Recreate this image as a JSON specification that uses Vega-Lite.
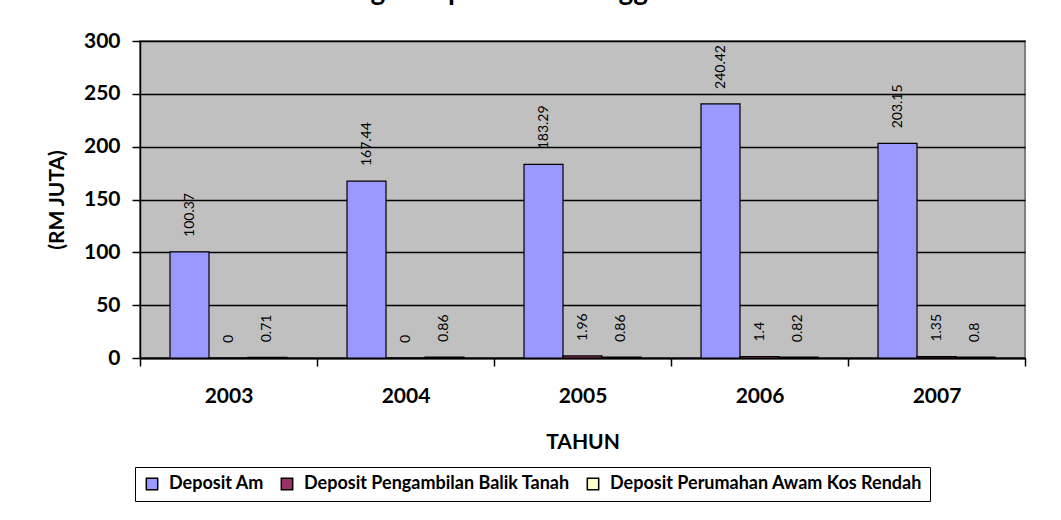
{
  "$schema": "https://vega.github.io/schema/vega-lite/v6.json",
  "width": 885,
  "height": 317,
  "autosize": "none",
  "padding": {"left": 140, "top": 41, "right": 36, "bottom": 162},
  "background": "white",
  "title": {"text": "Bagi tempoh 2003 Hingga 2007", "font": "Lato", "fontSize": 28, "fontWeight": "bold", "anchor": "middle", "frame": "bounds", "baseline": "alphabetic", "offset": 2, "color": "black"},
  "data": {"values": [
    {"tahun": "2003", "jenis": "Deposit Am", "nilai": 100.37},
    {"tahun": "2003", "jenis": "Deposit Pengambilan Balik Tanah", "nilai": 0},
    {"tahun": "2003", "jenis": "Deposit Perumahan Awam Kos Rendah", "nilai": 0.71},
    {"tahun": "2004", "jenis": "Deposit Am", "nilai": 167.44},
    {"tahun": "2004", "jenis": "Deposit Pengambilan Balik Tanah", "nilai": 0},
    {"tahun": "2004", "jenis": "Deposit Perumahan Awam Kos Rendah", "nilai": 0.86},
    {"tahun": "2005", "jenis": "Deposit Am", "nilai": 183.29},
    {"tahun": "2005", "jenis": "Deposit Pengambilan Balik Tanah", "nilai": 1.96},
    {"tahun": "2005", "jenis": "Deposit Perumahan Awam Kos Rendah", "nilai": 0.86},
    {"tahun": "2006", "jenis": "Deposit Am", "nilai": 240.42},
    {"tahun": "2006", "jenis": "Deposit Pengambilan Balik Tanah", "nilai": 1.4},
    {"tahun": "2006", "jenis": "Deposit Perumahan Awam Kos Rendah", "nilai": 0.82},
    {"tahun": "2007", "jenis": "Deposit Am", "nilai": 203.15},
    {"tahun": "2007", "jenis": "Deposit Pengambilan Balik Tanah", "nilai": 1.35},
    {"tahun": "2007", "jenis": "Deposit Perumahan Awam Kos Rendah", "nilai": 0.8}
  ]},
  "encoding": {
    "x": {
      "field": "tahun", "type": "nominal", "title": "TAHUN",
      "scale": {"paddingInner": 0, "paddingOuter": 0},
      "axis": {"labelAngle": 0, "labelFont": "Lato", "labelFontSize": 21, "labelFontWeight": "bold", "labelColor": "black", "labelPadding": 19,
               "tickBand": "extent", "tickSize": 8, "tickColor": "black", "tickWidth": 1.5, "domainColor": "black", "domainWidth": 2,
               "titleFont": "Lato", "titleFontSize": 21, "titleFontWeight": "bold", "titleColor": "black", "titlePadding": 25}
    },
    "xOffset": {"field": "jenis", "type": "nominal", "sort": ["Deposit Am", "Deposit Pengambilan Balik Tanah", "Deposit Perumahan Awam Kos Rendah"], "scale": {"paddingInner": 0, "paddingOuter": 0.77}},
    "y": {
      "field": "nilai", "type": "quantitative", "title": "(RM JUTA)",
      "scale": {"domain": [0, 300], "nice": false},
      "axis": {"values": [0, 50, 100, 150, 200, 250, 300], "labelFont": "Lato", "labelFontSize": 21, "labelFontWeight": "bold", "labelColor": "black", "labelPadding": 12,
               "tickSize": 8, "tickColor": "black", "tickWidth": 1.5, "domainColor": "black", "domainWidth": 1.5,
               "grid": true, "gridColor": "black", "gridWidth": 1.5,
               "titleFont": "Lato", "titleFontSize": 21, "titleFontWeight": "bold", "titleColor": "black", "titlePadding": 16}
    }
  },
  "layer": [
    {
      "mark": {"type": "bar", "stroke": "black", "strokeWidth": 1.2},
      "encoding": {
        "color": {
          "field": "jenis", "type": "nominal",
          "scale": {"domain": ["Deposit Am", "Deposit Pengambilan Balik Tanah", "Deposit Perumahan Awam Kos Rendah"], "range": ["#9999FF", "#993366", "#FFFFCC"]},
          "legend": {"title": null, "orient": "none", "legendX": -5, "legendY": 426, "direction": "horizontal",
                     "strokeColor": "black", "padding": 8, "labelFont": "Lato", "labelFontSize": 18, "labelFontWeight": "bold", "labelColor": "black", "labelLimit": 0,
                     "symbolType": "square", "symbolSize": 130, "symbolStrokeColor": "black", "symbolStrokeWidth": 1.5, "symbolOpacity": 1, "columnPadding": 14, "labelOffset": 8}
        }
      }
    },
    {
      "mark": {"type": "text", "angle": 270, "align": "left", "baseline": "middle", "dx": 15, "font": "Lato", "fontSize": 14, "color": "black"},
      "encoding": {"text": {"field": "nilai", "type": "quantitative"}}
    }
  ],
  "config": {"view": {"fill": "#C0C0C0", "stroke": "#808080", "strokeWidth": 2}}
}
